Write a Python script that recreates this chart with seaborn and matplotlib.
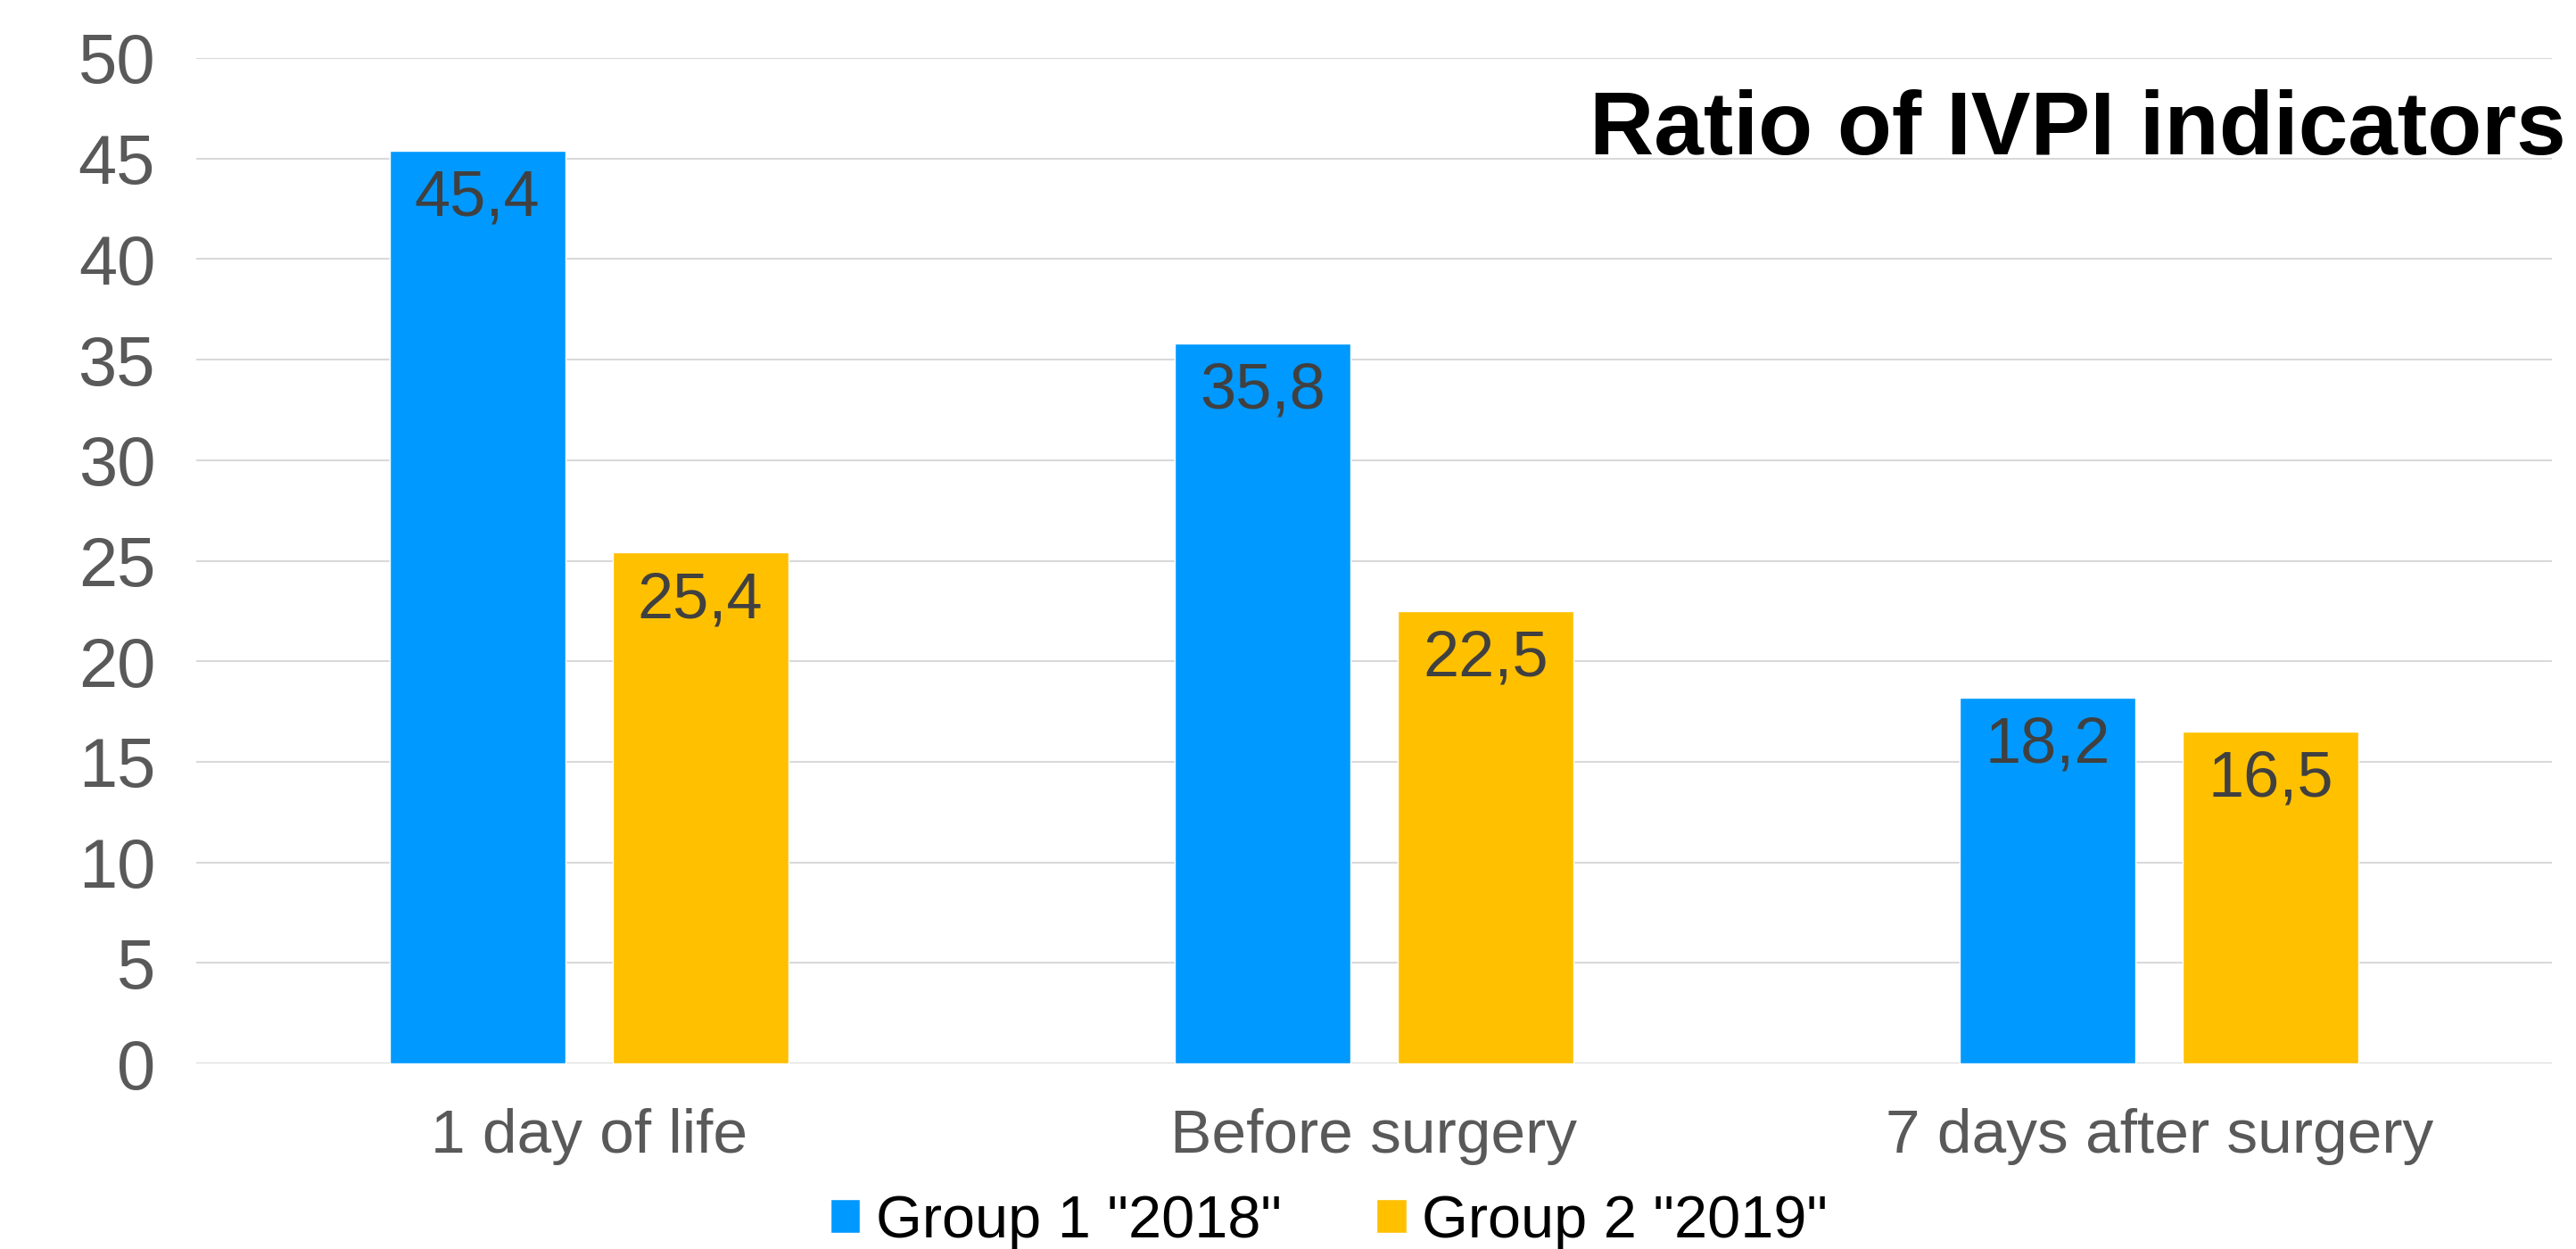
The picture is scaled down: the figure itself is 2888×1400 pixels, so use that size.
import matplotlib
matplotlib.use('Agg')
import matplotlib.pyplot as plt
import seaborn as sns
from pandas import DataFrame

# chart values
categories = ['1 day of life', 'Before surgery', '7 days after surgery']
groups = ['Group 1 "2018"', 'Group 2 "2019"']
group1 = [45.4, 35.8, 18.2]
group2 = [25.4, 22.5, 16.5]
yticks = [0, 5, 10, 15, 20, 25, 30, 35, 40, 45, 50]
title = 'Ratio of IVPI indicators'

sns.set_theme(style="whitegrid")
plt.rcParams['font.family'] = ['Liberation Sans', 'DejaVu Sans']

df = DataFrame({'stage': categories * 2,
                'group': [groups[0]] * len(group1) + [groups[1]] * len(group2),
                'value': group1 + group2})

fig = plt.figure(figsize=(28.88, 14), dpi=100)
ax = fig.add_axes([220 / 2888, 1 - 1192 / 1400, (2861 - 220) / 2888, (1192 - 65) / 1400])

sns.barplot(data=df, x='stage', y='value', hue='group',
            palette=['#0099FF', '#FFC000'], saturation=1,
            width=0.568, gap=0.212, ax=ax, legend=True)

# value labels inside the top of each bar
for container, vals in zip(ax.containers, [group1, group2]):
    for patch, v in zip(container, vals):
        ax.annotate(f"{v:.1f}".replace('.', ','),
                    (patch.get_x() + patch.get_width() / 2, patch.get_height()),
                    xytext=(0, -15), textcoords='offset points',
                    ha='center', va='top', fontsize=52, color='#404040')

ax.set_ylim(0, 50)
ax.set_yticks(yticks)
ax.set_xlabel('')
ax.set_ylabel('')
ax.tick_params(axis='y', labelsize=56, colors='#595959', pad=33, length=0)
ax.tick_params(axis='x', labelsize=50, colors='#595959', pad=36, length=0)
ax.grid(axis='y', color='#D9D9D9', linewidth=1.5)
ax.grid(axis='x', visible=False)
ax.set_axisbelow(True)
for s in ax.spines.values():
    s.set_visible(False)

fig.text(2877 / 2888, 1 - 173 / 1400, title, ha='right', va='baseline',
         fontsize=72, fontweight='bold', color='black')

handles, labels = ax.get_legend_handles_labels()
ax.legend(handles, labels, loc='center',
          bbox_to_anchor=(1490 / 2888, 1 - 1370 / 1400),
          bbox_transform=fig.transFigure, ncol=2, frameon=False,
          fontsize=48, handlelength=0.5, handleheight=0.5,
          handletextpad=0.26, columnspacing=1.6, borderpad=0,
          labelcolor='black')

fig.savefig('out.png', dpi=100)
